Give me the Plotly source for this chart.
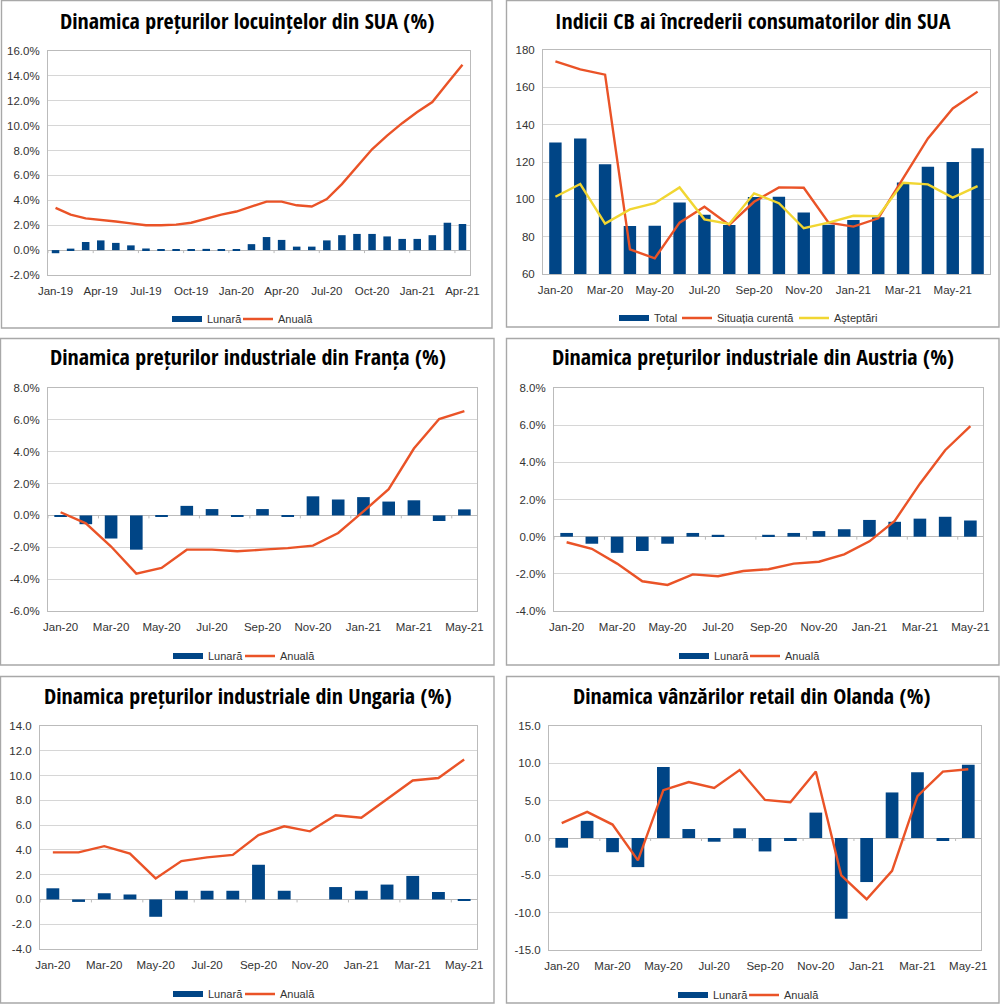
import plotly.graph_objects as go

W, H = 1000, 1005
BAR = "#004586"
RED = "#EA5327"
YEL = "#F1D632"
GRID = "#D6D6D6"
TXT = "#333333"

MONTHS_19 = ["Jan-19","Feb-19","Mar-19","Apr-19","May-19","Jun-19","Jul-19","Aug-19","Sep-19","Oct-19","Nov-19","Dec-19"]
MONTHS_20 = ["Jan-20","Feb-20","Mar-20","Apr-20","May-20","Jun-20","Jul-20","Aug-20","Sep-20","Oct-20","Nov-20","Dec-20"]
MONTHS_21_APR = ["Jan-21","Feb-21","Mar-21","Apr-21"]
MONTHS_21_MAY = MONTHS_21_APR + ["May-21"]
MONTHS_21_JUN = MONTHS_21_MAY + ["Jun-21"]

cat_sua = MONTHS_19 + MONTHS_20 + MONTHS_21_APR
cat_cb = MONTHS_20 + MONTHS_21_JUN
cat_eu = MONTHS_20 + MONTHS_21_MAY

sua_lunara = [-0.25,0.12,0.65,0.78,0.58,0.38,0.13,0.03,0.05,0.08,0.1,0.02,0.02,0.48,1.05,0.82,0.28,0.28,0.78,1.2,1.3,1.3,1.1,0.9,0.9,1.2,2.2,2.1]
sua_anuala = [3.4,2.85,2.55,2.45,2.3,2.15,2.0,2.0,2.05,2.2,2.55,2.85,3.1,3.5,3.9,3.9,3.6,3.5,4.1,5.3,6.7,8.1,9.2,10.2,11.1,11.9,13.4,14.9]

cb_total = [130.4,132.6,118.8,85.7,85.9,98.3,91.7,86.3,101.3,101.4,92.9,86.4,88.9,90.4,109.0,117.5,120.0,127.3]
cb_curenta = [173.9,169.6,166.8,73.2,68.4,87.5,96.0,86.3,98.7,106.4,106.2,87.5,85.4,89.8,111.2,132.6,148.7,157.7]
cb_asteptari = [101.4,108.2,87.0,94.6,97.9,106.4,89.3,86.8,103.2,97.9,84.5,87.5,91.2,91.0,108.9,108.0,100.9,107.1]

fr_lunara = [-0.08,-0.55,-1.45,-2.15,-0.08,0.6,0.4,-0.08,0.4,-0.1,1.2,1.0,1.15,0.87,0.95,-0.35,0.38]
fr_anuala = [0.2,-0.5,-1.95,-3.65,-3.3,-2.15,-2.15,-2.25,-2.15,-2.05,-1.9,-1.1,0.25,1.65,4.2,6.05,6.55]

at_lunara = [0.2,-0.38,-0.87,-0.77,-0.38,0.2,0.1,0.0,0.1,0.2,0.3,0.4,0.9,0.8,0.97,1.07,0.87]
at_anuala = [-0.3,-0.65,-1.45,-2.4,-2.6,-2.03,-2.13,-1.85,-1.75,-1.45,-1.35,-0.95,-0.25,0.85,2.85,4.65,5.95]

hu_lunara = [0.9,-0.2,0.5,0.4,-1.4,0.7,0.7,0.7,2.8,0.7,0.0,1.0,0.7,1.2,1.9,0.6,-0.1]
hu_anuala = [3.8,3.8,4.3,3.7,1.7,3.1,3.4,3.6,5.2,5.9,5.5,6.8,6.6,8.1,9.6,9.8,11.3]

nl_lunara = [-1.3,2.3,-1.9,-3.9,9.5,1.2,-0.5,1.3,-1.8,-0.4,3.4,-10.8,-5.9,6.1,8.8,-0.4,9.8]
nl_anuala = [2.0,3.5,1.8,-3.0,6.4,7.5,6.7,9.1,5.1,4.8,8.9,-5.0,-8.2,-4.4,5.6,8.9,9.2]

panels = [
    dict(title="Dinamica prețurilor locuințelor din SUA (%)", cats=cat_sua, step=3,
         bars=("Lunară", sua_lunara), lines=[("Anuală", sua_anuala, RED)],
         ymin=-2, ymax=16, dy=2, fmt="{:.1f}%",
         frame=(1, 0, 492, 328), plot=(48, 51, 470, 275), tx=246.5, ty=20, lx=[207, 278], ly=319),
    dict(title="Indicii CB ai încrederii consumatorilor din SUA", cats=cat_cb, step=2,
         bars=("Total", cb_total), lines=[("Situația curentă", cb_curenta, RED), ("Aşteptări", cb_asteptari, YEL)],
         ymin=60, ymax=180, dy=20, fmt="{:.0f}",
         frame=(506, 0, 999, 327), plot=(543, 50, 990, 274), tx=753, ty=20, lx=[654, 717, 834], ly=318),
    dict(title="Dinamica prețurilor industriale din Franța (%)", cats=cat_eu, step=2,
         bars=("Lunară", fr_lunara), lines=[("Anuală", fr_anuala, RED)],
         ymin=-6, ymax=8, dy=2, fmt="{:.1f}%",
         frame=(0, 338, 494, 665), plot=(48, 388, 477, 611), tx=247.5, ty=356, lx=[208, 280], ly=656),
    dict(title="Dinamica prețurilor industriale din Austria (%)", cats=cat_eu, step=2,
         bars=("Lunară", at_lunara), lines=[("Anuală", at_anuala, RED)],
         ymin=-4, ymax=8, dy=2, fmt="{:.1f}%",
         frame=(506, 338, 999, 665), plot=(554, 388, 983, 611), tx=753, ty=356, lx=[714, 785], ly=656),
    dict(title="Dinamica prețurilor industriale din Ungaria (%)", cats=cat_eu, step=2,
         bars=("Lunară", hu_lunara), lines=[("Anuală", hu_anuala, RED)],
         ymin=-4, ymax=14, dy=2, fmt="{:.1f}",
         frame=(0, 676, 494, 1003), plot=(40, 726, 477, 949), tx=247.5, ty=695, lx=[208, 280], ly=994),
    dict(title="Dinamica vânzărilor retail din Olanda (%)", cats=cat_eu, step=2,
         bars=("Lunară", nl_lunara), lines=[("Anuală", nl_anuala, RED)],
         ymin=-15, ymax=15, dy=5, fmt="{:.1f}",
         frame=(506, 676, 999, 1003), plot=(549, 726, 981, 950), tx=752, ty=695, lx=[713, 784], ly=995),
]

fx = lambda p: p / W
fy = lambda p: 1 - p / H

fig = go.Figure()
layout = dict(
    width=W, height=H, autosize=False,
    margin=dict(l=0, r=0, t=0, b=0, autoexpand=False), paper_bgcolor="white", plot_bgcolor="white",
    font=dict(family="Liberation Sans, Arial, sans-serif", size=12, color=TXT),
    barmode="overlay", shapes=[], annotations=[],
)

legend_no = 0


def next_legend(text_x, y):
    """One legend per entry so each swatch and label sits where the reference has it."""
    global legend_no
    legend_no += 1
    name = "legend" if legend_no == 1 else f"legend{legend_no}"
    layout[name] = dict(
        orientation="h", xref="container", yref="container", x=fx(text_x - 40), y=fy(y),
        xanchor="left", yanchor="middle", bgcolor="rgba(0,0,0,0)", font=dict(size=11, color=TXT),
        itemwidth=30, itemclick=False, itemdoubleclick=False,
    )
    return name


for i, p in enumerate(panels, start=1):
    sfx = "" if i == 1 else str(i)
    xa, ya = "x" + sfx, "y" + sfx
    cats, n = p["cats"], len(p["cats"])
    x0, y0, x1, y1 = p["plot"]
    yvals = list(range(p["ymin"], p["ymax"] + 1, p["dy"]))

    fig.add_trace(go.Bar(x=cats, y=p["bars"][1], name=p["bars"][0], marker=dict(color=BAR, line=dict(width=0)),
                         width=0.5, xaxis=xa, yaxis=ya, showlegend=False))
    fig.add_trace(go.Scatter(x=[None], y=[None], name=p["bars"][0], mode="lines", line=dict(color=BAR, width=6),
                             xaxis=xa, yaxis=ya, showlegend=True, legend=next_legend(p["lx"][0], p["ly"])))
    for (name, vals, col), tx in zip(p["lines"], p["lx"][1:]):
        fig.add_trace(go.Scatter(x=cats, y=vals, name=name, mode="lines", line=dict(color=col, width=2.4),
                                 xaxis=xa, yaxis=ya, showlegend=True, legend=next_legend(tx, p["ly"])))

    layout["xaxis" + sfx] = dict(
        domain=[fx(x0), fx(x1)], anchor=ya, type="category", categoryorder="array", categoryarray=cats,
        range=[-0.5, n - 0.5], tickmode="array", tickvals=cats[::p["step"]], ticktext=cats[::p["step"]],
        tickangle=0, ticks="", ticklabelstandoff=5, tickfont=dict(size=11.5, color=TXT),
        showgrid=False, zeroline=False, showline=True, linecolor="#BBBBBB", linewidth=1, mirror=True,
    )
    layout["yaxis" + sfx] = dict(
        domain=[fy(y1), fy(y0)], anchor=xa, range=[p["ymin"], p["ymax"]], tickmode="array",
        tickvals=yvals, ticktext=[p["fmt"].format(v) for v in yvals], ticks="", ticklabelstandoff=5,
        tickfont=dict(size=11.5, color=TXT), gridcolor=GRID, gridwidth=1,
        zeroline=p["ymin"] < 0, zerolinecolor="#BBBBBB", zerolinewidth=1,
        showline=True, linecolor="#BBBBBB", linewidth=1, mirror=True,
    )

    base = 0 if p["ymin"] < 0 else p["ymin"]
    for k in range(0, n + 1, p["step"]):
        layout["shapes"].append(dict(
            type="line", xref=xa, yref=ya, ysizemode="pixel", yanchor=base, x0=k - 0.5, x1=k - 0.5,
            y0=0, y1=-3, line=dict(color="#BBBBBB", width=1), layer="below"))

    fa, fb, fc, fd = p["frame"]
    layout["shapes"].append(dict(type="rect", xref="paper", yref="paper", x0=fx(fa) + 0.0005, x1=fx(fc),
                                 y0=fy(fd), y1=fy(fb) - 0.0005, line=dict(color="#A8A8A8", width=1.4), layer="below"))
    layout["annotations"].append(dict(
        text=p["title"], xref="paper", yref="paper", x=fx(p["tx"]), y=fy(p["ty"]),
        xanchor="center", yanchor="middle", showarrow=False,
        font=dict(family="Open Sans Condensed", weight=700, size=22, color="#000000")))

fig.update_layout(**layout)
fig.write_html("out.html", post_script="document.body.style.margin='0';document.body.style.overflow='hidden';",
               config=dict(displayModeBar=False))
